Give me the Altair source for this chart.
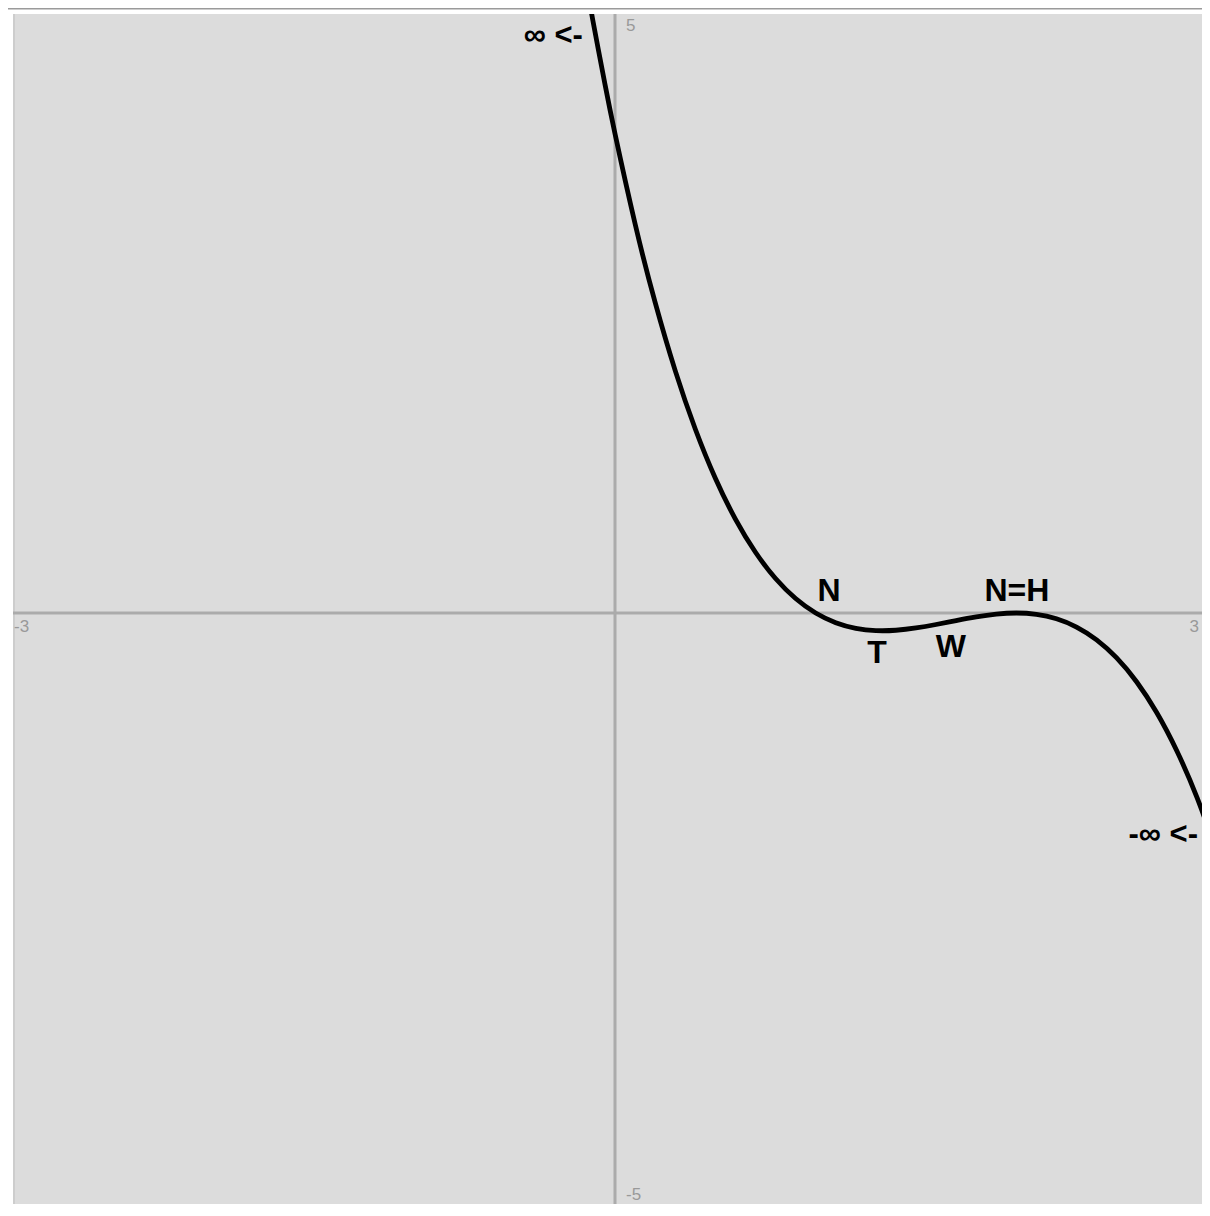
import altair as alt
import pandas as pd

# curve points (x, y)
curve_x = [-0.15, -0.11, -0.05, 0.0, 0.1, 0.2, 0.3, 0.4, 0.5, 0.6, 0.7, 0.8, 0.9, 1.0,
           1.1, 1.2, 1.3, 1.4, 1.5, 1.6, 1.7, 1.8, 1.9, 2.0, 2.1, 2.2, 2.3, 2.4,
           2.5, 2.6, 2.7, 2.8, 2.9, 3.0]
curve_y = [5.316, 4.942, 4.413, 4.0, 3.249, 2.592, 2.023, 1.536, 1.125, 0.784, 0.507, 0.288, 0.121, 0.0,
           -0.081, -0.128, -0.147, -0.144, -0.125, -0.096, -0.063, -0.032, -0.009, 0.0, -0.011, -0.048,
           -0.117, -0.224, -0.375, -0.576, -0.833, -1.152, -1.539, -2.0]

# annotation labels
label_text = ["N", "T", "W", "N=H"]
label_x = [1.066, 1.306, 1.674, 2.003]
label_y = [0.18, -0.33, -0.28, 0.18]

limit_text = ["\u221e <-", "-\u221e <-"]
limit_x = [-0.16, 2.905]
limit_y = [4.82, -1.85]

tick_text = ["-3", "3", "5", "-5"]
tick_x = [-2.995, 2.91, 0.055, 0.055]
tick_y = [-0.12, -0.12, 4.9, -4.86]
tick_align = ["left", "right", "left", "left"]

PX_PER_X = 200.67
PX_PER_Y = 119.8
W = 1189
H = 1190
XD = [-3, -3 + W / PX_PER_X]
YD = [5 - H / PX_PER_Y, 5]

xs = alt.Scale(domain=XD, nice=False, zero=False)
ys = alt.Scale(domain=YD, nice=False, zero=False)

curve_df = pd.DataFrame({"x": curve_x, "y": curve_y})
lab_df = pd.DataFrame({"t": label_text, "x": label_x, "y": label_y})
lim_df = pd.DataFrame({"t": limit_text, "x": limit_x, "y": limit_y})
tick_df = pd.DataFrame({"t": tick_text, "x": tick_x, "y": tick_y, "a": tick_align})
zero_df = pd.DataFrame({"v": [0]})

X = lambda f: alt.X(f, type="quantitative", scale=xs, axis=None)
Y = lambda f: alt.Y(f, type="quantitative", scale=ys, axis=None)

hline = alt.Chart(zero_df).mark_rule(color="#ababab", strokeWidth=3).encode(y=Y("v"))
vline = alt.Chart(zero_df).mark_rule(color="#ababab", strokeWidth=3).encode(x=X("v"))

left_edge = alt.Chart(zero_df).mark_rule(color="#cdcdcd", strokeWidth=2).encode(
    x=alt.value(1), y=alt.value(0), y2=alt.value(H))

top_frame = alt.Chart(zero_df).mark_rule(color="#9a9a9a", strokeWidth=1.5, clip=False).encode(
    x=alt.value(-6), x2=alt.value(W), y=alt.value(-5.3))

curve = alt.Chart(curve_df).mark_line(color="black", strokeWidth=4.8, interpolate="natural",
                                      clip=True).encode(x=X("x"), y=Y("y"), order="x:Q")

labels = alt.Chart(lab_df).mark_text(font="Liberation Sans", fontWeight="bold", fontSize=32,
                                     color="black", align="center", baseline="middle").encode(
    x=X("x"), y=Y("y"), text="t:N")

limits = alt.Chart(lim_df).mark_text(font="Liberation Sans", fontWeight="bold", fontSize=31,
                                     color="black", align="right", baseline="middle").encode(
    x=X("x"), y=Y("y"), text="t:N")

ticks_l = alt.Chart(tick_df).transform_filter("datum.a == 'left'").mark_text(
    font="Liberation Sans", fontSize=17, color="#999999", align="left", baseline="middle").encode(
    x=X("x"), y=Y("y"), text="t:N")
ticks_r = alt.Chart(tick_df).transform_filter("datum.a == 'right'").mark_text(
    font="Liberation Sans", fontSize=17, color="#999999", align="right", baseline="middle").encode(
    x=X("x"), y=Y("y"), text="t:N")

chart = alt.layer(left_edge, top_frame, hline, vline, curve, labels, limits, ticks_l, ticks_r).properties(
    width=W, height=H,
    padding={"left": 5, "top": 6, "right": 0, "bottom": 0},
    autosize=alt.AutoSizeParams(type="none"),
    background="white",
).configure_view(fill="#dcdcdc", stroke=None)

chart.save("out.html", embed_options={"renderer": "svg", "actions": False})
